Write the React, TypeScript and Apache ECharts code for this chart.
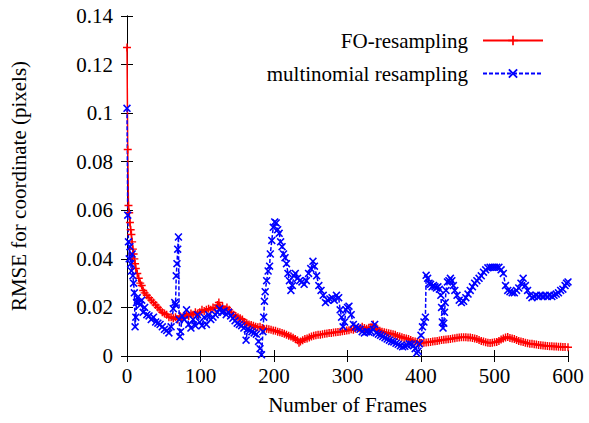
import React, { useEffect, useRef } from 'react';
import * as echarts from 'echarts';

const seriesNames = ['FO-resampling', 'multinomial resampling'];

const foFrames = [0,1,2,3,4,5,6,7,8,9,10,11,12,14,16,18,20,22,24,27,30,33,36,39,42,45,48,51,54,57,60,63,66,69,72,75,78,81,84,87,90,93,96,99,102,105,108,111,114,117,120,123,125,127,130,133,136,139,142,145,148,151,154,157,160,163,166,169,172,175,178,181,184,187,190,193,196,199,202,205,208,211,214,217,220,223,226,229,232,234,236,239,242,245,248,251,254,257,260,263,266,269,272,275,278,281,284,287,290,293,296,299,302,305,308,311,314,317,320,323,326,329,332,335,338,341,344,347,350,353,356,359,362,365,368,371,374,377,380,383,386,389,392,395,398,401,404,407,410,413,416,419,422,425,428,431,434,437,440,443,446,449,452,455,458,461,464,467,470,473,476,479,482,485,488,491,494,497,500,503,506,509,512,515,518,521,524,527,530,533,536,539,542,545,548,551,554,557,560,563,566,569,572,575,578,581,584,587,590,593,596,600];
const foValues = [0.127,0.085,0.062,0.059,0.055,0.052,0.050,0.047,0.044,0.042,0.040,0.038,0.036,0.034,0.032,0.030,0.029,0.027,0.026,0.025,0.024,0.023,0.022,0.021,0.020,0.019,0.018,0.0175,0.017,0.016,0.016,0.0155,0.016,0.015,0.0165,0.016,0.0165,0.017,0.0165,0.0175,0.017,0.018,0.0175,0.018,0.019,0.0185,0.019,0.0195,0.019,0.020,0.0195,0.021,0.022,0.020,0.0205,0.019,0.020,0.019,0.018,0.017,0.0165,0.016,0.0155,0.015,0.014,0.0135,0.013,0.0128,0.0125,0.012,0.0118,0.012,0.0115,0.011,0.0112,0.011,0.0108,0.0105,0.0104,0.010,0.0098,0.0095,0.0092,0.0088,0.0083,0.008,0.0075,0.007,0.0065,0.0055,0.006,0.0065,0.007,0.0072,0.0076,0.008,0.0083,0.0085,0.0087,0.0088,0.009,0.0092,0.0093,0.0095,0.0095,0.0097,0.0098,0.0099,0.010,0.0102,0.0103,0.0105,0.0106,0.011,0.0108,0.0112,0.0115,0.0113,0.012,0.0115,0.0112,0.0116,0.0118,0.013,0.0115,0.011,0.0104,0.010,0.0098,0.0096,0.0094,0.0092,0.009,0.0087,0.0082,0.008,0.0077,0.0074,0.0072,0.007,0.0066,0.0062,0.006,0.0058,0.0056,0.0054,0.0055,0.0056,0.0057,0.0058,0.006,0.0061,0.0062,0.0064,0.0066,0.0067,0.0068,0.0069,0.007,0.0072,0.0073,0.0075,0.0076,0.0077,0.0077,0.0077,0.0076,0.0076,0.0074,0.0072,0.007,0.0066,0.0062,0.006,0.0057,0.0055,0.0054,0.0055,0.0057,0.0058,0.0062,0.0068,0.0072,0.0076,0.0078,0.0074,0.0072,0.007,0.0066,0.0062,0.006,0.0058,0.0055,0.0052,0.005,0.005,0.0048,0.0047,0.0045,0.0044,0.0043,0.0042,0.0041,0.004,0.004,0.0039,0.0039,0.0038,0.0038,0.0037,0.0037,0.0036];

const mnFrames = [0,1,2,3,4,5,6,7,8,9,10,11,12,13,14,16,18,20,22,24,27,30,33,36,39,42,45,48,51,54,57,60,63,65,66,67,68,69,70,71,72,73,75,78,81,84,87,90,93,96,99,102,105,108,111,114,117,120,123,126,129,132,135,138,141,144,147,150,153,156,159,162,164,167,170,173,176,179,181,183,185,186,187,188,190,192,194,195,197,199,201,203,205,207,209,211,213,215,217,219,221,223,225,227,229,232,235,238,241,244,247,250,253,255,258,261,264,267,270,273,276,279,282,285,288,290,292,294,296,298,300,302,305,308,311,314,317,320,323,326,329,332,335,337,339,342,345,348,351,354,357,360,363,366,369,372,375,378,381,384,387,390,392,394,396,398,400,402,404,406,407,409,411,413,415,417,419,421,423,425,427,428,429,430,431,432,433,434,436,438,440,442,444,446,449,452,455,458,461,464,467,470,473,476,479,482,485,488,491,494,497,500,503,506,509,512,515,518,521,524,527,530,533,536,539,542,545,548,551,554,557,560,563,566,569,572,575,578,581,584,587,590,593,596,598,600];
const mnValues = [0.102,0.058,0.047,0.040,0.045,0.038,0.035,0.042,0.033,0.030,0.026,0.012,0.016,0.022,0.024,0.022,0.021,0.023,0.018,0.020,0.017,0.0165,0.015,0.016,0.014,0.0135,0.013,0.012,0.011,0.0105,0.0095,0.012,0.0195,0.022,0.021,0.033,0.038,0.044,0.049,0.015,0.008,0.010,0.0165,0.015,0.019,0.013,0.0115,0.015,0.0125,0.017,0.014,0.0125,0.016,0.013,0.017,0.015,0.016,0.017,0.018,0.0195,0.018,0.0185,0.017,0.018,0.0165,0.0155,0.0145,0.0135,0.013,0.0125,0.0115,0.0065,0.011,0.0105,0.010,0.0095,0.009,0.006,0.003,0.0005,0.010,0.016,0.0225,0.0265,0.031,0.035,0.037,0.042,0.0476,0.053,0.0552,0.0548,0.052,0.0505,0.047,0.045,0.042,0.0405,0.038,0.034,0.031,0.027,0.029,0.033,0.034,0.032,0.031,0.0305,0.0295,0.031,0.034,0.036,0.039,0.037,0.033,0.029,0.027,0.025,0.022,0.023,0.0235,0.024,0.023,0.025,0.024,0.019,0.016,0.012,0.014,0.019,0.020,0.0205,0.017,0.013,0.012,0.0115,0.011,0.010,0.0095,0.010,0.0098,0.010,0.011,0.013,0.0095,0.009,0.0085,0.008,0.0075,0.007,0.0065,0.006,0.0058,0.0052,0.0048,0.0042,0.0038,0.004,0.0045,0.005,0.0048,0.0042,0.003,0.0012,0.002,0.005,0.0085,0.012,0.014,0.016,0.0332,0.032,0.030,0.0295,0.0285,0.029,0.0285,0.028,0.0285,0.0275,0.025,0.020,0.014,0.0115,0.0135,0.018,0.022,0.027,0.0305,0.031,0.032,0.031,0.029,0.027,0.025,0.023,0.022,0.0225,0.024,0.0255,0.027,0.0285,0.030,0.031,0.032,0.033,0.0345,0.0355,0.0363,0.0365,0.0365,0.0365,0.0365,0.0365,0.0355,0.034,0.029,0.027,0.0265,0.026,0.026,0.027,0.028,0.030,0.032,0.029,0.027,0.025,0.024,0.0245,0.025,0.0245,0.025,0.0245,0.025,0.0245,0.025,0.0245,0.025,0.0255,0.026,0.027,0.0275,0.029,0.030,0.0305];

const xMin = 0, xMax = 600, xStep = 100;
const yMin = 0, yMax = 0.14, yStep = 0.02;

export default function App() {
  const ref = useRef<HTMLDivElement>(null);
  useEffect(() => {
    document.body.style.margin = '0';
    const chart = echarts.init(ref.current as HTMLDivElement, null, { renderer: 'svg' });
    const font = 'Liberation Serif';
    const plus = 'path://M4.1,0H5.9V4.1H10V5.9H5.9V10H4.1V5.9H0V4.1H4.1Z';
    const cross = 'path://M0,1.4L1.4,0L5,3.6L8.6,0L10,1.4L6.4,5L10,8.6L8.6,10L5,6.4L1.4,10L0,8.6L3.6,5Z';
    const axisLine = { show: true, lineStyle: { color: '#000', width: 1 } };
    const tick = { show: true, inside: true, length: 6, lineStyle: { color: '#000', width: 1 } };
    const label = { color: '#000', fontFamily: font, fontSize: 21 };
    chart.setOption({
      animation: false,
      backgroundColor: '#fff',
      grid: { left: 127, right: 21, top: 16, bottom: 67 },
      legend: {
        orient: 'vertical', right: 40, top: 25, align: 'right',
        itemWidth: 60, itemHeight: 12, itemGap: 12,
        textStyle: { fontFamily: font, fontSize: 21, color: '#000', padding: [0, 10, 0, 0] },
        data: seriesNames,
      },
      xAxis: [
        {
          type: 'value', min: xMin, max: xMax, interval: xStep, position: 'bottom',
          name: 'Number of Frames', nameLocation: 'middle', nameGap: 38,
          nameTextStyle: label,
          axisLine, axisTick: tick, axisLabel: { ...label, margin: 9 }, splitLine: { show: false },
        },
        {
          type: 'value', min: xMin, max: xMax, interval: xStep, position: 'top',
          axisLine, axisTick: tick, axisLabel: { show: false }, splitLine: { show: false },
        },
      ],
      yAxis: [
        {
          type: 'value', min: yMin, max: yMax, interval: yStep, position: 'left',
          name: 'RMSE for coordinate (pixels)', nameLocation: 'middle', nameGap: 98,
          nameTextStyle: label,
          axisLine, axisTick: tick, axisLabel: { ...label, margin: 14 }, splitLine: { show: false },
        },
        {
          type: 'value', min: yMin, max: yMax, interval: yStep, position: 'right',
          axisLine, axisTick: tick, axisLabel: { show: false }, splitLine: { show: false },
        },
      ],
      series: [
        {
          name: seriesNames[0], type: 'line',
          data: foFrames.map((f, i) => [f, foValues[i]]),
          symbol: plus, symbolSize: 8, showAllSymbol: true,
          lineStyle: { color: '#ff0000', width: 1.5 },
          itemStyle: { color: '#ff0000', borderWidth: 0 },
        },
        {
          name: seriesNames[1], type: 'line',
          data: mnFrames.map((f, i) => [f, mnValues[i]]),
          symbol: cross, symbolSize: 8, showAllSymbol: true,
          lineStyle: { color: '#0000ff', width: 1.5, type: [4, 2] },
          itemStyle: { color: '#0000ff', borderWidth: 0 },
        },
      ],
    });
    return () => chart.dispose();
  }, []);
  return <div ref={ref} style={{ position: 'absolute', left: 0, top: 0, width: 589, height: 423 }} />;
}
